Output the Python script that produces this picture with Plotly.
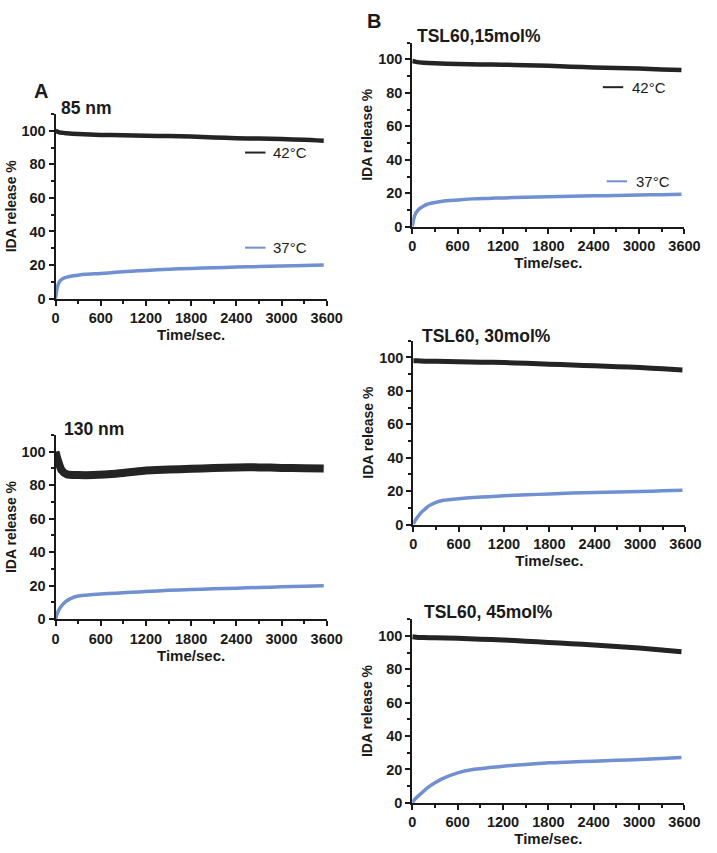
import plotly.graph_objects as go

W, H = 717, 853

# ---------------- data ----------------
t_hot = [0, 50, 150, 300, 600, 900, 1200, 1500, 1800, 2100, 2400, 2700, 3000, 3300, 3560]
t_cold = [0, 20, 50, 100, 150, 200, 300, 400, 600, 800, 1000, 1200, 1500, 1800, 2100, 2400, 2700, 3000, 3300, 3560]

# Panel A, 85 nm
a85_42 = [100, 99, 98.5, 98, 97.5, 97.3, 97, 96.8, 96.5, 96, 95.5, 95.3, 95, 94.6, 94]
a85_37 = [0, 6, 10, 12, 12.8, 13.3, 14, 14.5, 15, 15.7, 16.3, 16.8, 17.5, 18, 18.4, 18.8, 19.1, 19.4, 19.7, 20]

# Panel A, 130 nm
t_hot130 = [0, 30, 80, 150, 300, 500, 800, 1000, 1200, 1500, 1800, 2100, 2400, 2700, 3000, 3300, 3560]
a130_42 = [100, 95, 89, 86.5, 86, 86, 86.8, 87.8, 88.8, 89.3, 89.8, 90.2, 90.6, 90.6, 90.3, 90.1, 90]
a130_37 = [0, 3, 6, 9, 11, 12.3, 13.8, 14.3, 15, 15.5, 16, 16.5, 17.2, 17.7, 18.1, 18.5, 18.9, 19.3, 19.7, 20]

# Panel B, TSL60 15 mol%
b15_42 = [99, 98.5, 98, 97.6, 97.2, 97, 96.8, 96.5, 96.2, 95.6, 95.2, 94.9, 94.5, 94, 93.6]
b15_37 = [0, 5, 8.5, 11, 12.5, 13.5, 14.5, 15.3, 16, 16.7, 17, 17.3, 17.6, 18, 18.2, 18.5, 18.7, 19, 19.2, 19.5]

# Panel B, TSL60 30 mol%
b30_42 = [98, 98, 97.8, 97.7, 97.5, 97.2, 97, 96.5, 96, 95.5, 95, 94.5, 94, 93.2, 92.5]
b30_37 = [0, 2, 4, 7, 9, 11, 13.3, 14.5, 15.5, 16.2, 16.7, 17.2, 17.8, 18.3, 18.8, 19.1, 19.5, 19.8, 20.2, 20.5]

# Panel B, TSL60 45 mol%
b45_42 = [99.5, 99.2, 99, 98.8, 98.5, 98, 97.5, 96.8, 96, 95.3, 94.5, 93.6, 92.7, 91.5, 90.5]
b45_37 = [0, 1.5, 3, 5, 7, 9, 12, 14.5, 18, 20, 21, 22, 23, 24, 24.5, 25, 25.5, 26, 26.6, 27.2]

panel_titles = ["85 nm", "130 nm", "TSL60,15mol%", "TSL60, 30mol%", "TSL60, 45mol%"]
x_ticks = [0, 600, 1200, 1800, 2400, 3000, 3600]
y_ticks = [0, 20, 40, 60, 80, 100]

# ---------------- layout geometry (pixels) ----------------
panels = [
    dict(x0=53, x1=332, top=115, bot=301.5, th=t_hot, hot=a85_42, cold=a85_37, hw=4.5,
         title=panel_titles[0], tx=57, ty=109),
    dict(x0=53, x1=332, top=439, bot=625, th=t_hot130, hot=a130_42, cold=a130_37, hw=8,
         title=panel_titles[1], tx=60, ty=433),
    dict(x0=420, x1=700, top=43, bot=229, th=t_hot, hot=b15_42, cold=b15_37, hw=4.5,
         title=panel_titles[2], tx=423, ty=36),
    dict(x0=421, x1=701, top=344, bot=529.5, th=t_hot, hot=b30_42, cold=b30_37, hw=5,
         title=panel_titles[3], tx=428, ty=339),
    dict(x0=420, x1=700, top=625, bot=810.5, th=t_hot, hot=b45_42, cold=b45_37, hw=5,
         title=panel_titles[4], tx=430, ty=618),
]

BLACK = "#242424"
BLUE = "#7090d2"
FONT = "Liberation Sans, Arial, sans-serif"
TXT = "#1a1a1a"

fig = go.Figure()
layout = dict(
    width=W, height=H, margin=dict(l=0, r=0, t=0, b=0),
    paper_bgcolor="white", plot_bgcolor="white", showlegend=False,
    font=dict(family=FONT, color=TXT),
)
annotations = []
shapes = []

for i, p in enumerate(panels):
    k = "" if i == 0 else str(i + 1)
    xa, ya = "x" + k, "y" + k
    fig.add_trace(go.Scatter(x=t_cold, y=p["cold"], mode="lines",
                             line=dict(color=BLUE, width=3.5, shape="spline", smoothing=0.6),
                             xaxis=xa, yaxis=ya))
    fig.add_trace(go.Scatter(x=p["th"], y=p["hot"], mode="lines",
                             line=dict(color=BLACK, width=p["hw"], shape="spline", smoothing=0.6),
                             xaxis=xa, yaxis=ya))
    axcommon = dict(showline=True, linewidth=2, linecolor=TXT, ticks="outside",
                    ticklen=5, tickwidth=2, tickcolor=TXT, showgrid=False, zeroline=False,
                    tickfont=dict(family=FONT, size=14.5, color=TXT, weight="bold"))
    layout["xaxis" + k] = dict(
        axcommon, domain=[p["x0"] / W, p["x1"] / W], range=[0, 3600], anchor=ya,
        tickvals=x_ticks,
        minor=dict(dtick=300, tick0=0, ticks="outside", ticklen=3, tickwidth=1.5, tickcolor=TXT),
        title=dict(text="<b>Time/sec.</b>", font=dict(family=FONT, size=15), standoff=3),
    )
    layout["yaxis" + k] = dict(
        axcommon, domain=[1 - p["bot"] / H, 1 - p["top"] / H], range=[0, 110], anchor=xa,
        tickvals=y_ticks,
        minor=dict(dtick=10, tick0=0, ticks="outside", ticklen=3, tickwidth=1.5, tickcolor=TXT),
        title=dict(text="<b>IDA release %</b>", font=dict(family=FONT, size=14), standoff=2),
    )
    annotations.append(dict(text="<b>%s</b>" % p["title"], x=p["tx"] / W, y=1 - p["ty"] / H,
                            xref="paper", yref="paper", xanchor="left", yanchor="middle",
                            showarrow=False, font=dict(family=FONT, size=17.5, color=TXT)))

# panel letters
annotations.append(dict(text="<b>A</b>", x=29 / W, y=1 - 92 / H, xref="paper", yref="paper",
                        xanchor="left", yanchor="middle", showarrow=False,
                        font=dict(family=FONT, size=20, color=TXT)))
annotations.append(dict(text="<b>B</b>", x=371 / W, y=1 - 21 / H, xref="paper", yref="paper",
                        xanchor="left", yanchor="middle", showarrow=False,
                        font=dict(family=FONT, size=20, color=TXT)))

# legend keys (panels A-top and B-top)
legend_items = [
    (248, 269, 154, 275, "42°C", BLACK),
    (248, 269, 250, 275, "37°C", BLUE),
    (616, 637, 88, 644, "42°C", BLACK),
    (620, 641, 183, 648, "37°C", BLUE),
]
for lx0, lx1, ly, tx, lab, col in legend_items:
    shapes.append(dict(type="line", xref="paper", yref="paper", x0=lx0 / W, x1=lx1 / W,
                       y0=1 - ly / H, y1=1 - ly / H, line=dict(color=col, width=2)))
    annotations.append(dict(text=lab, x=tx / W, y=1 - ly / H, xref="paper", yref="paper",
                            xanchor="left", yanchor="middle", showarrow=False,
                            font=dict(family=FONT, size=15, color=TXT)))

layout["annotations"] = annotations
layout["shapes"] = shapes
fig.update_layout(**layout)
fig.write_html("out.html")
